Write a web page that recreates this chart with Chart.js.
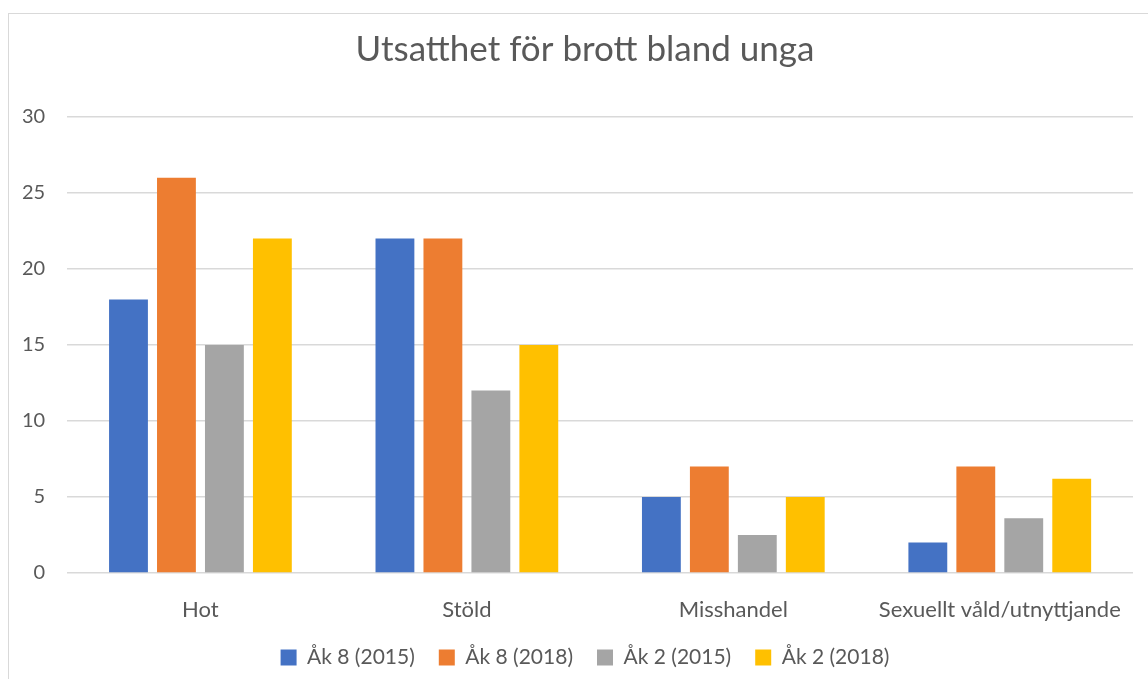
<!DOCTYPE html>
<html lang="sv">
<head>
<meta charset="UTF-8">
<title>Utsatthet för brott bland unga</title>
<script src="https://cdn.jsdelivr.net/npm/chart.js"></script>
<style>
    body { margin: 0; background: #fff; overflow: hidden; }
    #wrap { position: relative; width: 1148px; height: 679px; overflow: hidden; }
    #frame { position: absolute; left: 8px; top: 13px; width: 1160px; height: 700px; border: 1.5px solid #d9d9d9; }
    #chart { position: absolute; left: 0; top: 0; }
</style>
</head>
<body>
<div id="wrap">
    <div id="frame"></div>
    <!-- canvas a bit wider than the window so title and legend centre on the frame -->
    <canvas id="chart" width="1170" height="679"></canvas>
</div>
<script>
    const categories = ['Hot', 'Stöld', 'Misshandel', 'Sexuellt våld/utnyttjande'];
    const ak8_2015 = [18, 22, 5, 2];
    const ak8_2018 = [26, 22, 7, 7];
    const ak2_2015 = [15, 12, 2.5, 3.6];
    const ak2_2018 = [22, 15, 5, 6.2];

    const font = 'Lato, "Open Sans", sans-serif';
    const textColor = '#595959';

    const bar = (label, data, color) => ({
        label: label,
        data: data,
        backgroundColor: color,
        borderWidth: 0,
        barPercentage: 0.81,
        categoryPercentage: 0.72
    });

    new Chart(document.getElementById('chart'), {
        type: 'bar',
        data: {
            labels: categories,
            datasets: [
                bar('Åk 8 (2015)', ak8_2015, '#4472c4'),
                bar('Åk 8 (2018)', ak8_2018, '#ed7d31'),
                bar('Åk 2 (2015)', ak2_2015, '#a5a5a5'),
                bar('Åk 2 (2018)', ak2_2018, '#ffc000')
            ]
        },
        options: {
            responsive: false,
            animation: false,
            layout: { padding: { left: 0, right: 0, top: 0, bottom: 6 } },
            scales: {
                x: {
                    afterFit: (axis) => { axis.height = 50; },
                    grid: { display: false },
                    border: { display: false },
                    ticks: { color: textColor, font: { family: font, size: 22 }, padding: 16 }
                },
                y: {
                    min: 0,
                    max: 30,
                    ticks: { stepSize: 5, color: textColor, font: { family: font, size: 20 }, padding: 22 },
                    grid: { color: '#d9d9d9', lineWidth: 1.5, drawTicks: false },
                    border: { display: false }
                },
                // empty spacer on the right so the plot stops before the frame edge
                spacer: {
                    type: 'linear',
                    position: 'right',
                    afterFit: (axis) => { axis.width = 37; },
                    ticks: { display: false },
                    grid: { display: false },
                    border: { display: false }
                }
            },
            plugins: {
                title: {
                    display: true,
                    text: 'Utsatthet för brott bland unga',
                    color: textColor,
                    font: { family: font, size: 35, weight: 'normal' },
                    padding: { top: 29, bottom: 46 }
                },
                legend: {
                    position: 'bottom',
                    maxHeight: 50,
                    labels: {
                        color: textColor,
                        font: { family: font, size: 21 },
                        boxWidth: 16,
                        boxHeight: 16,
                        padding: 24
                    }
                },
                tooltip: { enabled: false }
            }
        }
    });
</script>
</body>
</html>
